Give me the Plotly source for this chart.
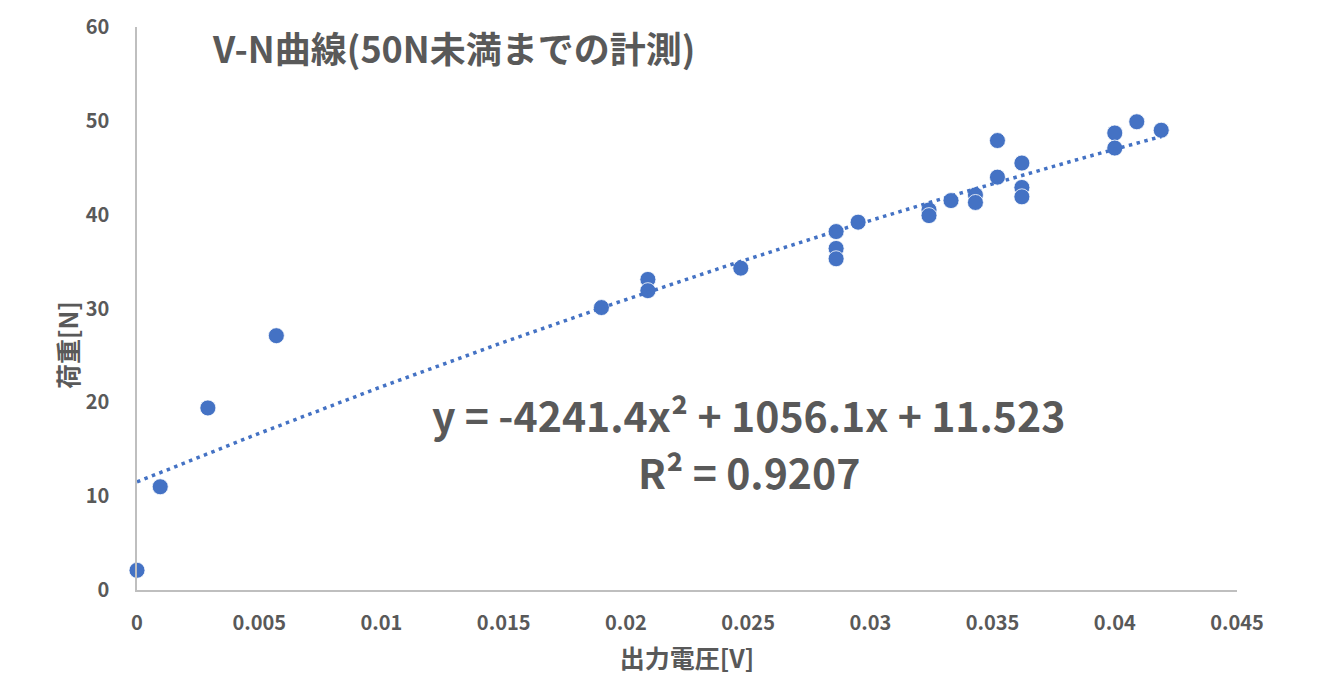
import numpy as np
import plotly.graph_objects as go

# Measured output voltage [V] and applied load [N]
voltage = [0.0, 0.00095, 0.0029, 0.0057, 0.019, 0.0209, 0.0209, 0.0247,
           0.0286, 0.0286, 0.0286, 0.0295, 0.0324, 0.0324, 0.0333, 0.0343,
           0.0343, 0.0352, 0.0352, 0.0362, 0.0362, 0.0362, 0.0400, 0.0400,
           0.0409, 0.0419]
load = [2.1, 11.0, 19.4, 27.1, 30.1, 33.1, 31.9, 34.3,
        38.2, 36.4, 35.3, 39.2, 40.5, 39.9, 41.5, 42.1,
        41.3, 47.9, 44.0, 45.5, 42.9, 41.9, 48.7, 47.1,
        49.9, 49.0]

# Quadratic trendline coefficients (a x^2 + b x + c) and fit quality
coef_a, coef_b, coef_c = -4241.4, 1056.1, 11.523
r_squared = 0.9207

x_ticks = [0, 0.005, 0.01, 0.015, 0.02, 0.025, 0.03, 0.035, 0.04, 0.045]
x_tick_text = ["0", "0.005", "0.01", "0.015", "0.02", "0.025", "0.03", "0.035", "0.04", "0.045"]
y_ticks = [0, 10, 20, 30, 40, 50, 60]

FONT = "Noto Sans CJK JP"
GREY = "#595959"
BLUE = "#4472C4"
W, H = 1334, 695
M_L, M_R, M_T, M_B = 137, 97, 27, 105
PLOT_W, PLOT_H = W - M_L - M_R, H - M_T - M_B

fit_x = np.linspace(0, max(voltage), 200)
fit_y = coef_a * fit_x ** 2 + coef_b * fit_x + coef_c

fig = go.Figure()
fig.add_trace(go.Scatter(
    x=voltage, y=load, mode="markers", cliponaxis=False,
    marker=dict(size=16, color=BLUE, line=dict(color="white", width=0.8)),
    showlegend=False,
))
fig.add_trace(go.Scatter(
    x=fit_x, y=fit_y, mode="lines",
    line=dict(color=BLUE, width=3.5, dash="3.5px,4.5px"),
    showlegend=False,
))

# Trendline equation and R² label
eq_font = dict(family=FONT, size=41, color=GREY, weight="bold")
fig.add_annotation(
    x=0.02503, y=(590 - 414) / 9.383, xref="x", yref="y",
    text=f"y = {coef_a}x² + {coef_b}x + {coef_c}",
    showarrow=False, font=eq_font,
)
fig.add_annotation(
    x=0.02503, y=(590 - 471) / 9.383, xref="x", yref="y",
    text=f"R² = {r_squared}",
    showarrow=False, font=eq_font,
)

# Vertical axis title (positioned in pixels, converted to plot-area fractions)
fig.add_annotation(
    x=(67 - M_L) / PLOT_W, y=(H - M_B - 345) / PLOT_H,
    xref="paper", yref="paper", xanchor="center", yanchor="middle",
    text="荷重[N]", textangle=-90, showarrow=False,
    font=dict(family=FONT, size=25, color=GREY, weight="bold"),
)

fig.update_layout(
    width=W, height=H,
    margin=dict(l=M_L, r=M_R, t=M_T, b=M_B),
    paper_bgcolor="white", plot_bgcolor="white",
    font=dict(family=FONT, color=GREY),
    title=dict(
        text="V-N曲線(50N未満までの計測)",
        x=213 / W, xanchor="left", y=1 - 50 / H, yanchor="middle",
        font=dict(family=FONT, size=36, color=GREY, weight="bold"),
    ),
    xaxis=dict(
        range=[0, 0.045], tickvals=x_ticks, ticktext=x_tick_text,
        showgrid=False, zeroline=False, showline=True,
        linecolor="#BFBFBF", linewidth=1.5, ticks="",
        tickfont=dict(family=FONT, size=20, color=GREY, weight="bold"),
        ticklabelstandoff=14,
        title=dict(text="出力電圧[V]", standoff=16,
                   font=dict(family=FONT, size=25, color=GREY, weight="bold")),
    ),
    yaxis=dict(
        range=[0, 60], tickvals=y_ticks,
        showgrid=False, zeroline=False, showline=True,
        linecolor="#BFBFBF", linewidth=1.5, ticks="",
        tickfont=dict(family=FONT, size=20, color=GREY, weight="bold"),
        ticklabelstandoff=22,
    ),
)

fig.write_html("out.html")
